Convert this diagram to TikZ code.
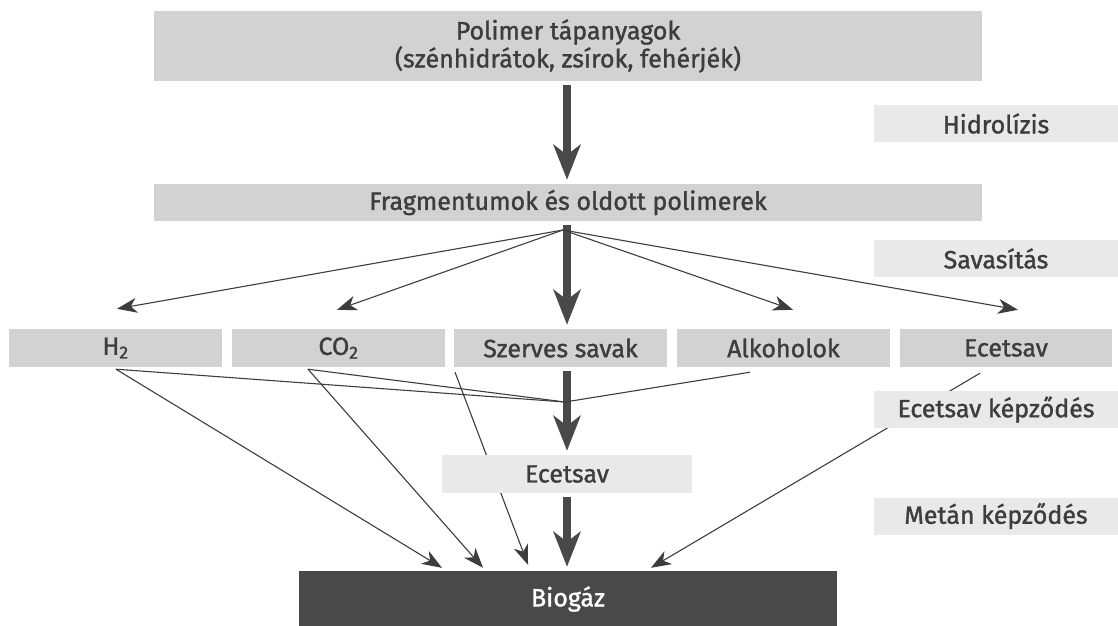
\documentclass[tikz,border=0pt]{standalone}
\usepackage{fontspec}
\setmainfont{Fira Sans}[FakeBold=1.3]
\usetikzlibrary{arrows.meta,backgrounds}
\definecolor{boxgray}{HTML}{D2D2D2}
\definecolor{boxlight}{HTML}{E9E9E9}
\definecolor{boxdark}{HTML}{494949}
\definecolor{ink}{HTML}{3D3D3D}
\begin{document}
\begin{tikzpicture}[x=1pt,y=-1pt,
  txt/.style={text=ink,font=\fontsize{25}{28}\selectfont},
  graybox/.style={fill=boxgray,inner sep=0pt,txt,anchor=center},
  stagebox/.style={fill=boxlight,inner sep=0pt,txt,anchor=center,minimum width=244pt,minimum height=37pt},
  rowbox/.style={graybox,minimum width=213pt,minimum height=38pt},
  bigarrow/.style={draw=boxdark,line width=8pt,-{Stealth[length=35pt,width=27pt,inset=10pt]},shorten <=4pt,shorten >=4pt},
  thinarrow/.style={draw=ink,line width=1.1pt,-{Stealth[length=20pt,width=15pt,inset=6pt]}},
  thinline/.style={draw=ink,line width=1.1pt}]
\useasboundingbox (0,0) rectangle (1118,625);
\clip (0,0) rectangle (1118,625);
% main boxes
\node[graybox,minimum width=828pt,minimum height=70pt,align=center] (poly) at (568,46)
  {Polimer tápanyagok\\(szénhidrátok, zsírok, fehérjék)};
\node[graybox,minimum width=828pt,minimum height=37pt] (frag) at (568,202.5) {Fragmentumok és oldott polimerek};
% stage labels
\node[stagebox] (hidro) at (996,123.5) {Hidrolízis};
\node[stagebox] (savas) at (996,258.5) {Savasítás};
\node[stagebox] (ecetk) at (996,409.5) {Ecetsav képződés};
\node[stagebox] (metan) at (996,516) {Metán képződés};
% row
\node[rowbox] (h2) at (115.5,348) {H\textsubscript{2}};
\node[rowbox] (co2) at (338.5,348) {CO\textsubscript{2}};
\node[rowbox] (szerv) at (560.5,348) {Szerves savak};
\node[rowbox] (alk) at (783.5,348) {Alkoholok};
\node[rowbox,minimum width=212pt] (ecet) at (1006,348) {Ecetsav};
% middle
\node[fill=boxlight,inner sep=0pt,txt,minimum width=250pt,minimum height=38pt] (mid) at (567,474) {Ecetsav};
% biogas
\node[fill=boxdark,inner sep=0pt,text=white,font=\fontsize{25}{28}\selectfont,minimum width=538pt,minimum height=56pt] (bio) at (568,599) {Biogáz};
\coordinate (hub) at (563,230);
\coordinate (merge) at (565,402);
\begin{pgfonlayer}{background}
% thick arrows
\draw[bigarrow] (poly.south -| 567,0) -- (frag.north -| 567,0);
\draw[bigarrow] (frag.south -| 567,0) -- (szerv.north -| 567,0);
\draw[bigarrow] (szerv.south -| 567,0) -- (mid.north);
\draw[bigarrow] (mid.south) -- (bio.north -| 567,0);
% fan out
\draw[thinarrow] (hub) -- ([xshift=1.5pt,yshift=20pt]h2.north);
\draw[thinarrow] (hub) -- ([xshift=-1.5pt,yshift=19pt]co2.north);
\draw[thinarrow] (hub) -- ([xshift=9.5pt,yshift=19pt]alk.north);
\draw[thinarrow] (hub) -- ([xshift=12pt,yshift=19pt]ecet.north);
% merge lines
\draw[thinline] ([xshift=0.5pt,yshift=-2pt]h2.south) -- (merge);
\draw[thinline] ([xshift=-30.5pt,yshift=-2pt]co2.south) -- (merge);
\draw[thinline] ([xshift=-33.5pt,yshift=-5pt]alk.south) -- (merge);
% to biogas
\draw[thinarrow] ([xshift=0.5pt,yshift=-2pt]h2.south) -- ([xshift=-126pt,yshift=3pt]bio.north);
\draw[thinarrow] ([xshift=-30.5pt,yshift=-2pt]co2.south) -- ([xshift=-85pt,yshift=3pt]bio.north);
\draw[thinarrow] ([xshift=-105.5pt,yshift=-5pt]szerv.south) -- ([xshift=-40pt,yshift=6pt]bio.north);
\draw[thinarrow] ([xshift=-26pt,yshift=-6pt]ecet.south) -- ([xshift=83pt,yshift=3pt]bio.north);
\end{pgfonlayer}
\end{tikzpicture}
\end{document}
